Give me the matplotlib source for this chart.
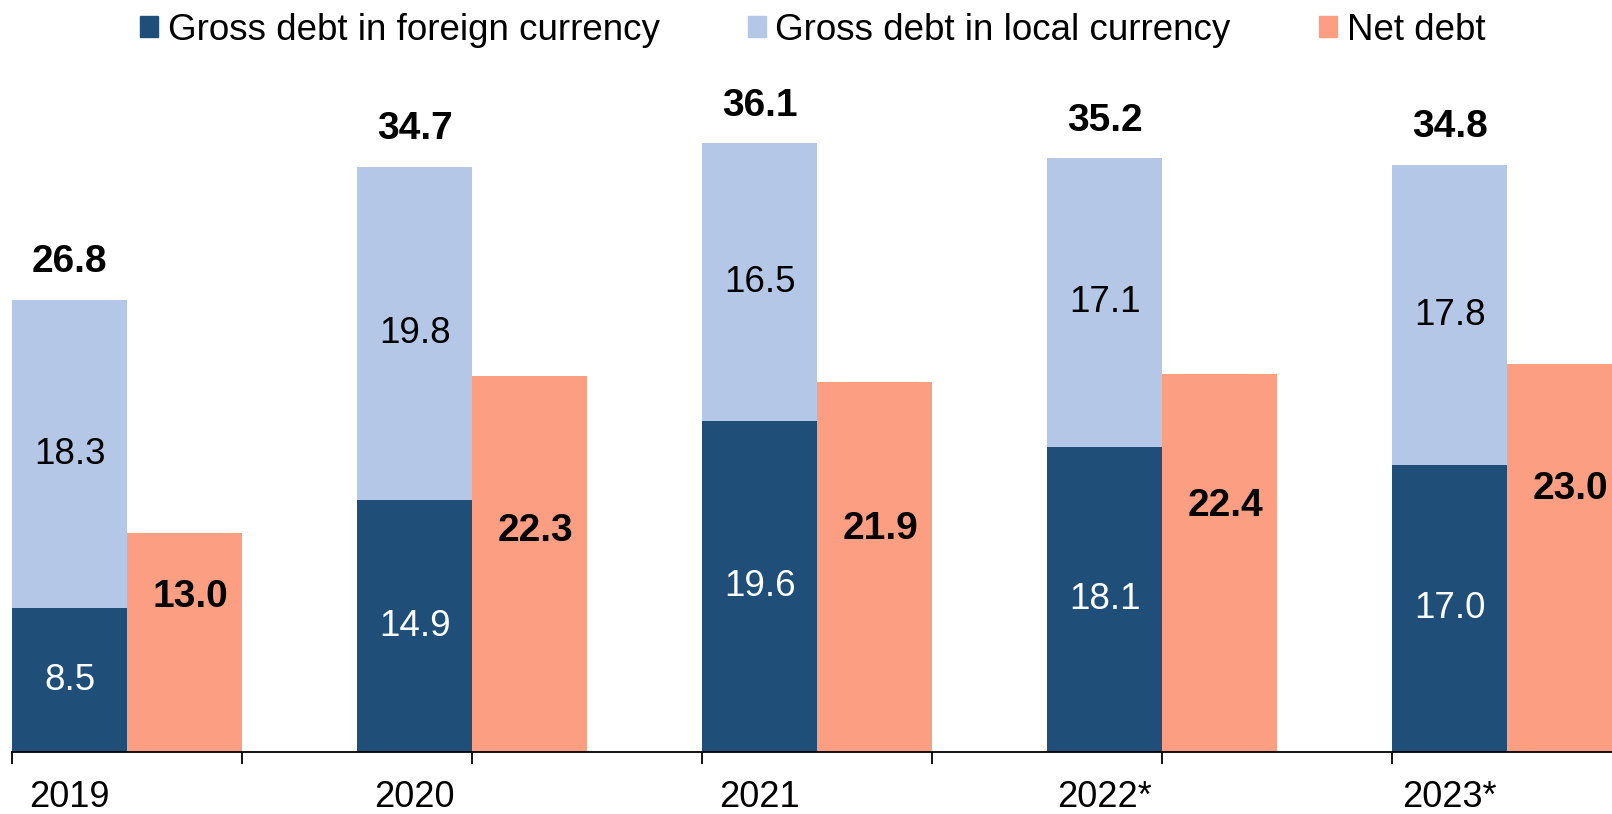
import numpy as np
import matplotlib
matplotlib.use("Agg")
import matplotlib.pyplot as plt
from matplotlib.patches import Patch

plt.rcParams['font.family'] = ['Liberation Sans', 'DejaVu Sans']

# -------------------- Data --------------------
years = ["2019", "2020", "2021", "2022*", "2023*"]
foreign = [8.5, 14.9, 19.6, 18.1, 17.0]
local = [18.3, 19.8, 16.5, 17.1, 17.8]
net = [13.0, 22.3, 21.9, 22.4, 23.0]
totals = [26.8, 34.7, 36.1, 35.2, 34.8]

# height (in data units) of the net debt labels, placed by hand in the original
net_label_y = [9.2, 13.1, 13.2, 14.6, 15.6]

c_foreign = "#1F4E79"
c_local = "#B4C7E7"
c_net = "#FB9E81"

# -------------------- Figure --------------------
W, H = 1612, 814
fig = plt.figure(figsize=(W / 100, H / 100), dpi=100)
ax_left = 12.3 / W
ax_bottom = (H - 751.7) / H
ymax = 40
px_per_unit = 16.86
ax_h = ymax * px_per_unit / H
ax = fig.add_axes([ax_left, ax_bottom, 1 - ax_left, ax_h])

# each slot is one category wide: stacked bar, net bar, empty
x_stack = np.arange(len(years)) * 3
x_net = x_stack + 1

ax.bar(x_stack, foreign, width=1.0, color=c_foreign, label="Gross debt in foreign currency")
ax.bar(x_stack, local, width=1.0, bottom=foreign, color=c_local, label="Gross debt in local currency")
ax.bar(x_net, net, width=1.0, color=c_net, label="Net debt")

for i in range(len(years)):
    ax.text(x_stack[i], foreign[i] / 2, f"{foreign[i]:.1f}", ha="center", va="center",
            color="white", fontsize=26.5)
    ax.text(x_stack[i], foreign[i] + local[i] / 2, f"{local[i]:.1f}", ha="center", va="center",
            color="black", fontsize=26.5)
    ax.annotate(f"{totals[i]:.1f}", (x_stack[i], totals[i]), xytext=(0, 27),
                textcoords="offset points", ha="center", va="center",
                fontsize=28, fontweight="bold", annotation_clip=False)
    ax.text(x_net[i] + 0.05, net_label_y[i], f"{net[i]:.1f}", ha="center", va="center",
            color="black", fontsize=28, fontweight="bold", clip_on=False)

xmax = -0.5 + (W - 12.3) / 115.0
ax.set_xlim(-0.5, xmax)
ax.set_ylim(0, ymax)

# tick marks every two slots, labels under the stacked bars
ax.set_xticks(np.arange(-0.5, xmax, 2))
ax.set_xticklabels([])
ax.set_xticks(x_stack, minor=True)
ax.set_xticklabels(years, minor=True, fontsize=26)
ax.tick_params(axis="x", which="major", length=8.6, width=1.3, direction="out", color="black")
ax.tick_params(axis="x", which="minor", length=0, pad=20.5)

for s in ["top", "right", "left"]:
    ax.spines[s].set_visible(False)
ax.spines["bottom"].set_linewidth(1.3)
ax.set_yticks([])

handles = [Patch(color=c_foreign), Patch(color=c_local), Patch(color=c_net)]
labels = ["Gross debt in foreign currency", "Gross debt in local currency", "Net debt"]
fig.legend(handles, labels, loc="center", bbox_to_anchor=(0.504, 1 - 30 / H), ncol=3,
           frameon=False, fontsize=26.5, handlelength=0.5, handleheight=0.5,
           handletextpad=0.25, columnspacing=2.4, borderaxespad=0, borderpad=0)

fig.savefig("out.png", dpi=100)
